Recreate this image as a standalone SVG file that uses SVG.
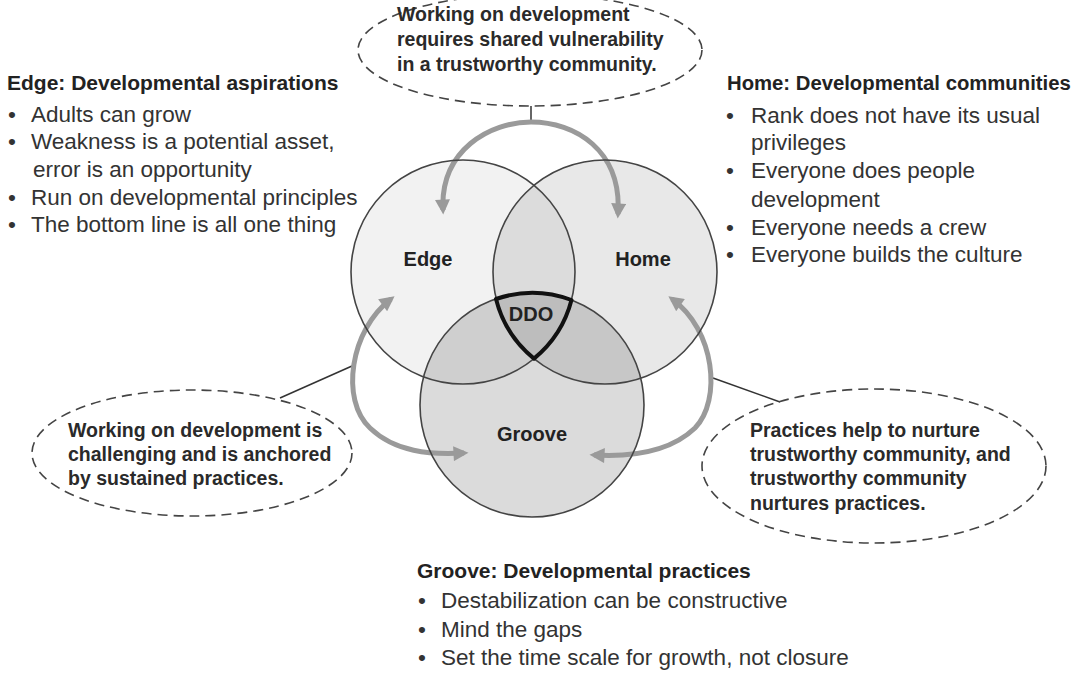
<svg xmlns="http://www.w3.org/2000/svg" width="1080" height="675" viewBox="0 0 1080 675">
<defs>
<style>
.head{font-family:"Liberation Sans",Arial,sans-serif;font-weight:bold;font-size:21px;fill:#222}
.body{font-family:"Liberation Sans",Arial,sans-serif;font-size:22.5px;fill:#333}
.note{font-family:"Liberation Sans",Arial,sans-serif;font-weight:bold;font-size:19.5px;fill:#2a2a2a}
.lbl{font-family:"Liberation Sans",Arial,sans-serif;font-weight:bold;font-size:20px;fill:#222;text-anchor:middle}
.ring{fill:none;stroke:#444;stroke-width:1.6}
.dash{fill:none;stroke:#444;stroke-width:1.6;stroke-dasharray:10 6}
.garc{fill:none;stroke:#9a9a9a;stroke-width:5;marker-start:url(#ah);marker-end:url(#ah)}
.thin{fill:none;stroke:#333;stroke-width:1.5}
</style>
<marker id="ah" viewBox="0 0 10 10" refX="7" refY="5" markerWidth="17" markerHeight="15" markerUnits="userSpaceOnUse" orient="auto-start-reverse">
<path d="M0,0 L10,5 L0,10 z" fill="#9a9a9a"/>
</marker>
</defs>
<rect width="1080" height="675" fill="#fff"/>

<g id="venn-fills">
<circle cx="463" cy="272" r="112" fill="#000" fill-opacity="0.05"/>
<circle cx="605" cy="272" r="112" fill="#000" fill-opacity="0.09"/>
<circle cx="532" cy="405" r="112" fill="#000" fill-opacity="0.14"/>
</g>

<g id="connectors">
<line class="thin" x1="531" y1="106" x2="531" y2="123"/>
<line class="thin" x1="280" y1="398" x2="352" y2="366"/>
<line class="thin" x1="713" y1="378" x2="780" y2="402"/>
<path class="garc" d="M443,210 C440,150 490,122 531,122 C575,122 622,150 618,214"/>
<path class="garc" d="M391,299 C350,330 340,400 370,428 C395,452 430,455 464,453"/>
<path class="garc" d="M672,299 C715,330 722,400 695,428 C670,452 630,457 594,455"/>
</g>

<g id="edge">
<circle class="ring" cx="463" cy="272" r="112"/>
<text class="lbl" x="428" y="266">Edge</text>
</g>
<g id="home">
<circle class="ring" cx="605" cy="272" r="112"/>
<text class="lbl" x="643" y="266">Home</text>
</g>
<g id="groove">
<circle class="ring" cx="532" cy="405" r="112"/>
<text class="lbl" x="532" y="441">Groove</text>
</g>
<g id="ddo">
<path d="M496,299 A112,112 0 0 1 571.5,300 A112,112 0 0 1 534,358.6 A112,112 0 0 1 496,299 Z" fill="none" stroke="#111" stroke-width="4" stroke-linejoin="round"/>
<text class="lbl" x="531" y="321">DDO</text>
</g>

<g id="note-top">
<ellipse class="dash" cx="530" cy="50" rx="172" ry="56"/>
<text class="note" x="397" y="21">Working on development</text>
<text class="note" x="397" y="46">requires shared vulnerability</text>
<text class="note" x="397" y="71">in a trustworthy community.</text>
</g>
<g id="note-left">
<ellipse class="dash" cx="192" cy="453" rx="160" ry="63"/>
<text class="note" x="68" y="437">Working on development is</text>
<text class="note" x="68" y="461">challenging and is anchored</text>
<text class="note" x="68" y="485">by sustained practices.</text>
</g>
<g id="note-right">
<ellipse class="dash" cx="874" cy="466" rx="172" ry="77"/>
<text class="note" x="750" y="437">Practices help to nurture</text>
<text class="note" x="750" y="461">trustworthy community, and</text>
<text class="note" x="750" y="485">trustworthy community</text>
<text class="note" x="750" y="510">nurtures practices.</text>
</g>

<g id="list-edge">
<text class="head" x="7" y="90">Edge: Developmental aspirations</text>
<text class="body" x="8" y="122">•</text><text class="body" x="31" y="122">Adults can grow</text>
<text class="body" x="8" y="149">•</text><text class="body" x="31" y="149">Weakness is a potential asset,</text>
<text class="body" x="33" y="177">error is an opportunity</text>
<text class="body" x="8" y="205">•</text><text class="body" x="31" y="205">Run on developmental principles</text>
<text class="body" x="8" y="232">•</text><text class="body" x="31" y="232">The bottom line is all one thing</text>
</g>
<g id="list-home">
<text class="head" x="727" y="90" style="font-size:20.3px">Home: Developmental communities</text>
<text class="body" x="726" y="123">•</text><text class="body" x="751" y="123">Rank does not have its usual</text>
<text class="body" x="751" y="150">privileges</text>
<text class="body" x="726" y="178">•</text><text class="body" x="751" y="178">Everyone does people</text>
<text class="body" x="751" y="207">development</text>
<text class="body" x="726" y="235">•</text><text class="body" x="751" y="235">Everyone needs a crew</text>
<text class="body" x="726" y="262">•</text><text class="body" x="751" y="262">Everyone builds the culture</text>
</g>
<g id="list-groove">
<text class="head" x="417" y="578">Groove: Developmental practices</text>
<text class="body" x="418" y="608">•</text><text class="body" x="441" y="608">Destabilization can be constructive</text>
<text class="body" x="418" y="637">•</text><text class="body" x="441" y="637">Mind the gaps</text>
<text class="body" x="418" y="665">•</text><text class="body" x="441" y="665">Set the time scale for growth, not closure</text>
</g>
</svg>
